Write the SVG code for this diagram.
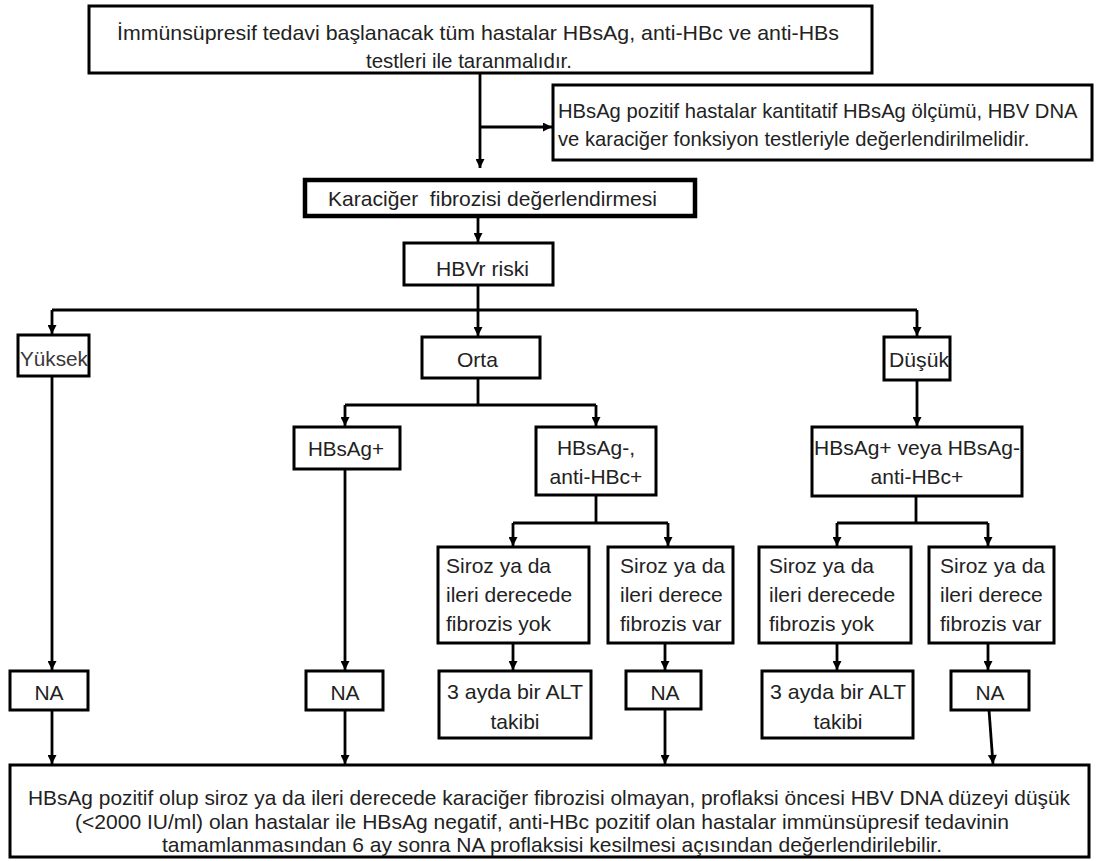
<svg xmlns="http://www.w3.org/2000/svg" width="1105" height="861" viewBox="0 0 1105 861">
<defs>
<marker id="ah" viewBox="0 0 10 10" refX="10" refY="5" markerWidth="10" markerHeight="9" markerUnits="userSpaceOnUse" orient="auto"><path d="M0,0 L10,5 L0,10 z" fill="#000"/></marker>
<style>
.b{fill:#fff;stroke:#000;stroke-width:3}
.bk{fill:#fff;stroke:#000;stroke-width:4.5}
.t{font-family:"Liberation Sans",Arial,sans-serif;font-size:21px;fill:#222}
.m{text-anchor:middle}
.c{fill:none;stroke:#000;stroke-width:2.8}
.a{fill:none;stroke:#000;stroke-width:2.8;marker-end:url(#ah)}
</style>
</defs>
<rect width="1105" height="861" fill="#fff"/>
<g id="connectors">
<path class="a" d="M480,73 V168"/>
<path class="a" d="M480,127 H552"/>
<path class="a" d="M478,216 V242"/>
<path class="c" d="M478,285 V310 M52,310 H917"/>
<path class="a" d="M52,310 V334"/>
<path class="a" d="M478,310 V336"/>
<path class="a" d="M917,310 V336"/>
<path class="a" d="M52,376 V670"/>
<path class="c" d="M478,378 V405 M345,405 H596"/>
<path class="a" d="M345,405 V426"/>
<path class="a" d="M596,405 V426"/>
<path class="a" d="M345,469 V670"/>
<path class="c" d="M596,495 V523 M513,523 H668"/>
<path class="a" d="M513,523 V546"/>
<path class="a" d="M668,523 V546"/>
<path class="a" d="M513,643 V670"/>
<path class="a" d="M665,643 V670"/>
<path class="a" d="M917,380 V426"/>
<path class="c" d="M916,496 V523 M837,523 H988"/>
<path class="a" d="M837,523 V546"/>
<path class="a" d="M988,523 V546"/>
<path class="a" d="M837,643 V670"/>
<path class="a" d="M988,643 V670"/>
<path class="a" d="M52,710 V764"/>
<path class="a" d="M345,710 V764"/>
<path class="a" d="M665,709 V764"/>
<path class="a" d="M989,710 L993,764"/>
</g>
<g id="n-top"><rect class="b" x="89" y="6" width="783" height="67"/>
<text class="t" x="117" y="40" textLength="722" lengthAdjust="spacingAndGlyphs">İmmünsüpresif tedavi başlanacak tüm hastalar HBsAg, anti-HBc ve anti-HBs</text>
<text class="t" x="366" y="68" textLength="206" lengthAdjust="spacingAndGlyphs">testleri ile taranmalıdır.</text></g>
<g id="n-hbsag-pos"><rect class="b" x="553" y="85" width="539" height="75"/>
<text class="t" x="558" y="118" style="font-size:20.2px">HBsAg pozitif hastalar kantitatif HBsAg ölçümü, HBV DNA</text>
<text class="t" x="558" y="146" style="font-size:20.2px">ve karaciğer fonksiyon testleriyle değerlendirilmelidir.</text></g>
<g id="n-fibrozis"><rect class="bk" x="305" y="180" width="390" height="36"/>
<text class="t" x="328" y="206" xml:space="preserve" textLength="329" lengthAdjust="spacingAndGlyphs">Karaciğer  fibrozisi değerlendirmesi</text></g>
<g id="n-hbvr"><rect class="b" x="404" y="243" width="149" height="42"/>
<text class="t" x="436" y="276" textLength="93" lengthAdjust="spacingAndGlyphs">HBVr riski</text></g>
<g id="n-yuksek"><rect class="b" x="18" y="335" width="71" height="41"/>
<text class="t" x="20" y="366" textLength="68" lengthAdjust="spacingAndGlyphs" style="fill:#383838">Yüksek</text></g>
<g id="n-orta"><rect class="b" x="422" y="337" width="118" height="41"/>
<text class="t" x="457" y="367">Orta</text></g>
<g id="n-dusuk"><rect class="b" x="884" y="337" width="66" height="43"/>
<text class="t" x="889" y="367" textLength="60" lengthAdjust="spacingAndGlyphs">Düşük</text></g>
<g id="n-orta-hbsag"><rect class="b" x="294" y="427" width="106" height="42"/>
<text class="t" x="308" y="456" textLength="76" lengthAdjust="spacingAndGlyphs">HBsAg+</text></g>
<g id="n-orta-antihbc"><rect class="b" x="536" y="427" width="120" height="68"/>
<text class="t m" x="596" y="455">HBsAg-,</text>
<text class="t m" x="596" y="484">anti-HBc+</text></g>
<g id="n-dusuk-hbsag"><rect class="b" x="812" y="427" width="210" height="69"/>
<text class="t m" x="917" y="455" textLength="206" lengthAdjust="spacingAndGlyphs">HBsAg+ veya HBsAg-</text>
<text class="t m" x="917" y="484">anti-HBc+</text></g>
<g id="n-orta-yok"><rect class="b" x="438" y="547" width="151" height="96"/>
<text class="t" x="446" y="573">Siroz ya da</text>
<text class="t" x="446" y="602">ileri derecede</text>
<text class="t" x="446" y="631">fibrozis yok</text></g>
<g id="n-orta-var"><rect class="b" x="608" y="547" width="125" height="96"/>
<text class="t" x="620" y="573">Siroz ya da</text>
<text class="t" x="620" y="602">ileri derece</text>
<text class="t" x="620" y="631">fibrozis var</text></g>
<g id="n-dusuk-yok"><rect class="b" x="759" y="547" width="152" height="96"/>
<text class="t" x="769" y="573">Siroz ya da</text>
<text class="t" x="769" y="602">ileri derecede</text>
<text class="t" x="769" y="631">fibrozis yok</text></g>
<g id="n-dusuk-var"><rect class="b" x="929" y="547" width="125" height="96"/>
<text class="t" x="940" y="573">Siroz ya da</text>
<text class="t" x="940" y="602">ileri derece</text>
<text class="t" x="940" y="631">fibrozis var</text></g>
<g id="n-na-yuksek"><rect class="b" x="10" y="671" width="78" height="39"/>
<text class="t m" x="49" y="700">NA</text></g>
<g id="n-na-hbsag"><rect class="b" x="306" y="671" width="77" height="39"/>
<text class="t m" x="345" y="700">NA</text></g>
<g id="n-alt-orta"><rect class="b" x="439" y="671" width="152" height="67"/>
<text class="t" x="447" y="699" textLength="136" lengthAdjust="spacingAndGlyphs">3 ayda bir ALT</text>
<text class="t m" x="515" y="729">takibi</text></g>
<g id="n-na-orta"><rect class="b" x="626" y="671" width="75" height="38"/>
<text class="t m" x="665" y="700">NA</text></g>
<g id="n-alt-dusuk"><rect class="b" x="762" y="671" width="151" height="67"/>
<text class="t" x="770" y="699" textLength="136" lengthAdjust="spacingAndGlyphs">3 ayda bir ALT</text>
<text class="t m" x="838" y="729">takibi</text></g>
<g id="n-na-dusuk"><rect class="b" x="951" y="671" width="78" height="39"/>
<text class="t m" x="990" y="700">NA</text></g>
<g id="n-bottom"><rect class="b" x="10" y="765" width="1079" height="92"/>
<text class="t m" x="549" y="805" textLength="1042" lengthAdjust="spacingAndGlyphs">HBsAg pozitif olup siroz ya da ileri derecede karaciğer fibrozisi olmayan, proflaksi öncesi HBV DNA düzeyi düşük</text>
<text class="t m" x="542" y="829" textLength="934" lengthAdjust="spacingAndGlyphs">(&lt;2000 IU/ml) olan hastalar ile HBsAg negatif, anti-HBc pozitif olan hastalar immünsüpresif tedavinin</text>
<text class="t m" x="552" y="852" textLength="780" lengthAdjust="spacingAndGlyphs">tamamlanmasından 6 ay sonra NA proflaksisi kesilmesi açısından değerlendirilebilir.</text></g>
</svg>
